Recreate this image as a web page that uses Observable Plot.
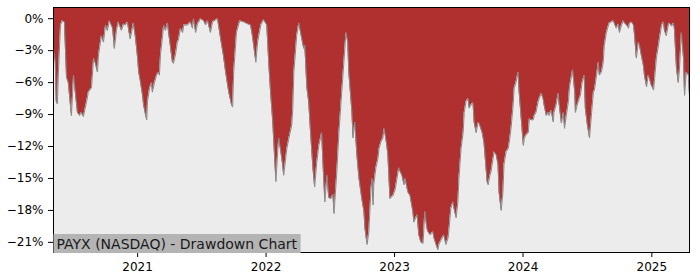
<!DOCTYPE html>
<html><head><meta charset="utf-8">
<script src="https://cdn.jsdelivr.net/npm/d3@7"></script>
<script src="https://cdn.jsdelivr.net/npm/@observablehq/plot@0.6"></script>
<style>body{margin:0;background:#fff} #chart{position:relative;width:700px;height:280px}</style>
</head><body><div id="chart"></div>
<script>
const dates = [
"2020-05-07","2020-05-12","2020-05-15","2020-05-18","2020-05-21","2020-05-27","2020-06-01","2020-06-07","2020-06-13","2020-06-18",
"2020-06-27","2020-07-03","2020-07-08","2020-07-14","2020-07-20","2020-07-25","2020-07-31","2020-08-09","2020-08-14","2020-08-23",
"2020-08-29","2020-09-03","2020-09-09","2020-09-12","2020-09-20","2020-09-26","2020-10-02","2020-10-07","2020-10-13","2020-10-22",
"2020-10-27","2020-11-02","2020-11-07","2020-11-16","2020-11-22","2020-11-27","2020-12-03","2020-12-11","2020-12-17","2020-12-20",
"2020-12-26","2021-01-01","2021-01-04","2021-01-09","2021-01-15","2021-01-18","2021-01-24","2021-01-27","2021-01-29","2021-02-04",
"2021-02-10","2021-02-12","2021-02-18","2021-02-24","2021-03-02","2021-03-04","2021-03-07","2021-03-13","2021-03-16","2021-03-21",
"2021-03-27","2021-03-30","2021-04-05","2021-04-10","2021-04-13","2021-04-19","2021-04-24","2021-04-27","2021-05-03","2021-05-09",
"2021-05-12","2021-05-23","2021-05-31","2021-06-06","2021-06-09","2021-06-15","2021-06-20","2021-06-29","2021-07-08","2021-07-13",
"2021-07-19","2021-07-27","2021-08-02","2021-08-16","2021-08-25","2021-09-02","2021-09-08","2021-09-17","2021-09-25","2021-09-28",
"2021-10-01","2021-10-09","2021-10-18","2021-10-29","2021-11-10","2021-11-18","2021-11-24","2021-12-03","2021-12-08","2021-12-17",
"2021-12-25","2022-01-03","2022-01-09","2022-01-14","2022-01-20","2022-01-23","2022-01-29","2022-02-03","2022-02-06","2022-02-12",
"2022-02-17","2022-02-20","2022-03-01","2022-03-07","2022-03-15","2022-03-18","2022-03-21","2022-03-29","2022-04-04","2022-04-12",
"2022-04-18","2022-04-21","2022-04-27","2022-05-02","2022-05-08","2022-05-14","2022-05-19","2022-05-25","2022-05-31","2022-06-08",
"2022-06-11","2022-06-17","2022-06-23","2022-06-28","2022-07-04","2022-07-10","2022-07-13","2022-07-21","2022-07-27","2022-08-04",
"2022-08-10","2022-08-16","2022-08-21","2022-08-24","2022-09-02","2022-09-05","2022-09-10","2022-09-16","2022-09-22","2022-09-30",
"2022-10-06","2022-10-09","2022-10-15","2022-10-20","2022-10-26","2022-10-29","2022-11-01","2022-11-03","2022-11-09","2022-11-15",
"2022-11-18","2022-11-23","2022-11-29","2022-12-02","2022-12-05","2022-12-10","2022-12-13","2022-12-19","2022-12-28","2023-01-03",
"2023-01-08","2023-01-13","2023-01-16","2023-01-22","2023-01-28","2023-01-31","2023-02-08","2023-02-14","2023-02-22","2023-02-25",
"2023-03-06","2023-03-11","2023-03-17","2023-03-23","2023-03-28","2023-04-03","2023-04-06","2023-04-12","2023-04-20","2023-04-23",
"2023-04-29","2023-05-04","2023-05-07","2023-05-16","2023-05-21","2023-05-27","2023-06-02","2023-06-05","2023-06-10","2023-06-16",
"2023-06-19","2023-06-25","2023-06-30","2023-07-03","2023-07-09","2023-07-15","2023-07-18","2023-07-23","2023-07-29","2023-08-01",
"2023-08-06","2023-08-12","2023-08-15","2023-08-21","2023-08-26","2023-08-29","2023-09-07","2023-09-12","2023-09-15","2023-09-21",
"2023-09-24","2023-09-29","2023-10-02","2023-10-08","2023-10-11","2023-10-17","2023-10-22","2023-10-25","2023-10-31","2023-11-05",
"2023-11-08","2023-11-14","2023-11-20","2023-11-23","2023-11-28","2023-12-04","2023-12-07","2023-12-12","2023-12-18","2023-12-21",
"2023-12-27","2024-01-02","2024-01-05","2024-01-10","2024-01-16","2024-01-19","2024-01-24","2024-01-30","2024-02-02","2024-02-07",
"2024-02-13","2024-02-16","2024-02-22","2024-02-27","2024-03-01","2024-03-07","2024-03-13","2024-03-15","2024-03-21","2024-03-27",
"2024-03-29","2024-04-04","2024-04-10","2024-04-13","2024-04-19","2024-04-25","2024-04-28","2024-05-03","2024-05-09","2024-05-12",
"2024-05-18","2024-05-21","2024-05-27","2024-05-29","2024-06-03","2024-06-09","2024-06-12","2024-06-17","2024-06-23","2024-06-26",
"2024-07-02","2024-07-08","2024-07-14","2024-07-19","2024-07-22","2024-07-28","2024-08-02","2024-08-05","2024-08-11","2024-08-16",
"2024-08-19","2024-08-25","2024-08-31","2024-09-02","2024-09-08","2024-09-14","2024-09-17","2024-09-22","2024-09-28","2024-10-01",
"2024-10-07","2024-10-12","2024-10-15","2024-10-21","2024-10-27","2024-10-29","2024-11-04","2024-11-10","2024-11-13","2024-11-18",
"2024-11-24","2024-11-27","2024-12-02","2024-12-08","2024-12-11","2024-12-17","2024-12-22","2024-12-25","2024-12-30","2025-01-06",
"2025-01-09","2025-01-14","2025-01-20","2025-01-23","2025-01-29","2025-02-03","2025-02-06","2025-02-11","2025-02-17","2025-02-20",
"2025-02-26","2025-03-03","2025-03-06","2025-03-12","2025-03-17","2025-03-20","2025-03-26","2025-04-01","2025-04-04","2025-04-09",
"2025-04-15","2025-04-18"
];
const drawdowns = [
-3.0,-4.0,-7.8,-8.0,-5.0,-0.6,-0.2,-0.3,-5.5,-6.0,
-9.1,-5.3,-6.9,-8.8,-9.1,-8.8,-9.2,-7.8,-6.9,-6.5,
-3.7,-4.2,-5.0,-3.4,-1.6,-2.2,-0.6,-1.1,-0.2,-0.9,
-2.8,-1.1,-0.3,-1.1,-0.5,-0.6,-0.3,-1.9,-0.9,-0.4,
-1.8,-3.7,-5.0,-5.9,-7.2,-8.1,-9.1,-9.5,-7.8,-6.5,
-6.0,-6.9,-6.0,-5.3,-5.0,-5.3,-3.4,-1.6,-0.6,-1.1,
-0.4,-1.3,-2.8,-4.1,-4.2,-3.3,-2.2,-2.0,-0.9,-1.3,
-0.6,-0.6,-0.3,-0.9,0,-1.3,-0.5,0,-0.2,-0.6,
-0.2,-1.3,-0.3,0,-1.9,-3.5,-5.0,-6.9,-8.1,-8.3,
-5.0,-1.3,-0.2,-0.3,-0.5,-0.6,-1.8,-4.1,-2.2,-0.6,
-0.1,-0.6,-4.4,-7.0,-9.7,-11.6,-15.3,-12.5,-11.2,-12.5,
-13.7,-14.7,-12.2,-11.2,-10.0,-8.4,-5.0,-1.6,-0.4,-1.8,
-2.8,-2.5,-6.5,-7.8,-11.0,-14.0,-15.8,-13.5,-11.9,-10.7,
-13.1,-17.2,-14.7,-16.8,-16.9,-16.5,-18.3,-14.4,-10.7,-6.9,
-4.1,-1.3,-2.2,-5.0,-8.8,-11.2,-9.7,-12.8,-15.0,-16.9,
-18.1,-19.7,-21.2,-20.0,-16.0,-15.0,-17.5,-15.6,-14.0,-13.1,
-12.2,-11.6,-11.2,-10.3,-10.8,-11.9,-12.8,-16.9,-16.6,-16.0,
-15.0,-14.0,-14.3,-14.7,-15.6,-15.0,-16.3,-16.6,-18.1,-19.1,
-18.4,-20.3,-21.0,-21.1,-18.1,-19.7,-20.0,-20.3,-20.0,-20.6,
-21.2,-21.7,-21.2,-20.6,-20.3,-21.2,-20.6,-19.7,-17.8,-17.2,
-17.8,-18.7,-17.2,-15.0,-12.2,-10.7,-8.8,-7.8,-7.5,-8.4,
-8.1,-7.9,-9.7,-10.7,-9.8,-9.8,-10.7,-11.6,-12.8,-15.3,
-15.6,-14.7,-14.4,-13.1,-12.5,-12.8,-13.7,-16.3,-18.0,-16.3,
-13.7,-12.5,-12.2,-11.6,-10.3,-8.1,-6.5,-6.0,-5.0,-6.9,
-9.4,-11.9,-11.2,-10.9,-10.7,-9.4,-9.5,-9.5,-9.1,-8.8,
-7.8,-7.5,-7.0,-7.5,-8.1,-9.1,-8.8,-9.1,-8.6,-9.7,
-8.8,-8.1,-7.0,-8.1,-9.8,-8.8,-10.3,-9.1,-7.8,-6.5,
-5.3,-4.8,-6.9,-8.8,-8.1,-7.5,-7.2,-6.0,-5.3,-8.4,
-10.0,-11.2,-8.8,-6.9,-6.7,-5.3,-4.1,-5.3,-5.0,-4.1,
-2.5,-1.3,-0.6,-0.4,-0.3,-0.2,-0.5,-0.9,-0.5,-1.3,
-0.6,-0.2,-0.4,-0.6,-0.9,-0.5,-0.3,-0.6,-1.6,-3.7,
-2.2,-2.5,-3.4,-4.4,-5.3,-6.4,-5.3,-5.6,-6.2,-6.7,
-5.6,-3.7,-2.5,-1.8,-0.6,-0.3,-1.1,-1.6,-0.6,-0.4,
-0.7,-0.4,-0.9,-4.6,-6.0,-5.0,-1.3,-3.7,-7.2,-5.0,
-5.3,-7.2
];
const yTicks = [0, -3, -6, -9, -12, -15, -18, -21];
const xTickYears = [2021, 2022, 2023, 2024, 2025];
const title = "PAYX (NASDAQ) - Drawdown Chart";
const yTop = 1.05, yBottom = -21.95;

const data = dates.map((d, i) => ({date: new Date(d + "T00:00:00Z"), dd: drawdowns[i]}));

const chart = Plot.plot({
  width: 700, height: 280,
  marginLeft: 53, marginRight: 11, marginTop: 7, marginBottom: 28,
  style: {fontFamily: "'DejaVu Sans', sans-serif", fontSize: "12px", color: "#000", background: "#fff", overflow: "visible"},
  x: {type: "utc", domain: d3.extent(data, d => d.date)},
  y: {domain: [yBottom, yTop]},
  marks: [
    Plot.frame({fill: "#ececec"}),
    Plot.areaY(data, {x: "date", y1: "dd", y2: () => yTop, fill: "#b03030"}),
    Plot.lineY(data, {x: "date", y: "dd", stroke: "#8a8a8a", strokeWidth: 1}),
    Plot.axisY(yTicks, {tickSize: 5, tickPadding: 5, label: null,
      tickFormat: v => (v < 0 ? "\u2212" : "") + Math.abs(v) + "%"}),
    Plot.axisX(xTickYears.map(y => new Date(Date.UTC(y, 0, 1))), {tickSize: 5, tickPadding: 5, label: null,
      tickFormat: d3.utcFormat("%Y")}),
    Plot.frame({stroke: "#000", strokeWidth: 1}),
    Plot.text([title], {frameAnchor: "bottom-left", lineAnchor: "bottom", dx: 3, dy: -4,
      text: d => d, fontSize: 14, fill: "#1a1a1a", textAnchor: "start"})
  ]
});
document.getElementById("chart").appendChild(chart);

// grey label box behind the title text, sized from the text's own bounding box
const titleText = Array.from(chart.querySelectorAll("text")).find(t => t.textContent === title);
if (titleText) {
  const bb = titleText.getBBox();
  const g = titleText.closest("g");
  const rect = document.createElementNS("http://www.w3.org/2000/svg", "rect");
  rect.setAttribute("x", bb.x - 3);
  rect.setAttribute("y", bb.y - 1.5);
  rect.setAttribute("width", bb.width + 6);
  rect.setAttribute("height", bb.height + 3);
  rect.setAttribute("fill", "#b4b4b4");
  g.parentNode.insertBefore(rect, g);
  const t = titleText.getAttribute("transform");
  const gt = g.getAttribute("transform");
  if (t) rect.setAttribute("transform", (gt || "") + " " + t);
  else if (gt) rect.setAttribute("transform", gt);
}
</script>
</body></html>
